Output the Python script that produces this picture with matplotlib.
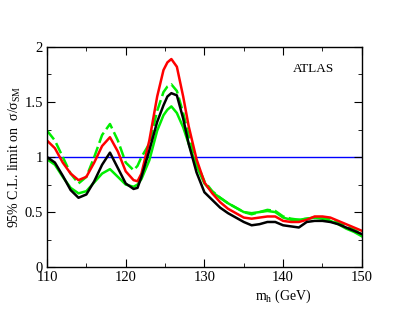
import numpy as np
import matplotlib
matplotlib.use("Agg")
import matplotlib.pyplot as plt
from matplotlib.ticker import MultipleLocator

plt.rcParams['font.family'] = ['Liberation Serif', 'DejaVu Serif']
plt.rcParams['mathtext.fontset'] = 'custom'
plt.rcParams['mathtext.rm'] = 'Liberation Serif'
plt.rcParams['mathtext.it'] = 'Liberation Serif'

# Higgs mass (GeV) and 95% CL limits
mh = [110, 111, 112, 113, 114, 115, 116, 117, 118, 119, 120, 121, 121.5, 122,
      123, 124, 124.8, 125.3, 125.8, 126.5, 127.3, 128, 129, 130, 131, 132, 133,
      134, 135, 136, 137, 138, 139, 140, 141, 142, 143, 144, 145, 146, 147, 148,
      149, 150]

observed = [1.00, 0.95, 0.83, 0.70, 0.63, 0.66, 0.78, 0.93, 1.04, 0.90, 0.76,
            0.71, 0.72, 0.82, 1.06, 1.32, 1.47, 1.55, 1.58, 1.56, 1.35, 1.12,
            0.86, 0.68, 0.61, 0.54, 0.49, 0.45, 0.41, 0.38, 0.39, 0.41, 0.41,
            0.38, 0.37, 0.36, 0.41, 0.42, 0.42, 0.41, 0.39, 0.36, 0.33, 0.30]

red = [1.15, 1.08, 0.95, 0.85, 0.79, 0.82, 0.95, 1.10, 1.18, 1.05, 0.87,
       0.79, 0.78, 0.85, 1.15, 1.55, 1.79, 1.86, 1.89, 1.82, 1.55, 1.28,
       0.98, 0.77, 0.67, 0.59, 0.53, 0.49, 0.45, 0.44, 0.45, 0.46, 0.46,
       0.42, 0.41, 0.41, 0.43, 0.46, 0.46, 0.45, 0.42, 0.39, 0.36, 0.33]

green_dashed = [1.24, 1.15, 1.00, 0.85, 0.76, 0.82, 1.00, 1.20, 1.30, 1.15, 0.95,
                0.88, 0.92, 1.00, 1.12, 1.42, 1.59, 1.64, 1.66, 1.60, 1.40, 1.20,
                0.95, 0.78, 0.69, 0.63, 0.58, 0.54, 0.50, 0.48, 0.50, 0.52, 0.51,
                0.46, 0.44, 0.43, 0.44, 0.45, 0.45, 0.44, 0.41, 0.37, 0.34, 0.30]

green_solid = [0.98, 0.93, 0.82, 0.72, 0.67, 0.69, 0.77, 0.85, 0.89, 0.82, 0.75,
               0.73, 0.75, 0.80, 0.97, 1.24, 1.38, 1.43, 1.46, 1.40, 1.27, 1.12,
               0.92, 0.76, 0.68, 0.63, 0.58, 0.54, 0.50, 0.49, 0.50, 0.51, 0.50,
               0.45, 0.43, 0.43, 0.44, 0.45, 0.44, 0.42, 0.39, 0.35, 0.32, 0.28]

fig = plt.figure(figsize=(4.07, 3.15), dpi=100)
ax = fig.add_axes([0.1155, 0.152, 0.7735, 0.699])

ax.axhline(1.0, color='#0000ff', lw=1.0, zorder=1)
ax.plot(mh, green_solid, color='#00ee00', lw=1.8)
ax.plot(mh, green_dashed, color='#00ee00', lw=1.8, dashes=(4.5, 1.7))
ax.plot(mh, red, color='#ff0000', lw=1.8)
ax.plot(mh, observed, color='black', lw=1.8)

ax.set_xlim(110, 150)
ax.set_ylim(0, 2)
ax.xaxis.set_major_locator(MultipleLocator(10))
ax.xaxis.set_minor_locator(MultipleLocator(5))
ax.yaxis.set_major_locator(MultipleLocator(0.5))
ax.yaxis.set_minor_locator(MultipleLocator(0.25))
ax.set_yticks([0, 0.5, 1, 1.5, 2])
ax.set_yticklabels(['0', '0.5', '1', '1.5', '2'])
ax.tick_params(which='both', direction='in', top=True, right=True,
               labelsize=10.5, pad=3)
ax.tick_params(which='major', length=6)
ax.tick_params(which='minor', length=3)
for s in ax.spines.values():
    s.set_linewidth(1.0)

ax.text(143.8, 1.8, 'ATLAS', ha='center', va='center', fontsize=9.5)
ax.set_xlabel(r'm$_\mathregular{h}$ (GeV)', fontsize=10, labelpad=0)
ax.xaxis.set_label_coords(0.75, -0.095)
ax.set_ylabel(r'95% C.L. limit on  $\sigma/\sigma_{\mathregular{SM}}$', fontsize=10)
ax.yaxis.set_label_coords(-0.075, 0.5)

fig.savefig('out.png', dpi=100)
